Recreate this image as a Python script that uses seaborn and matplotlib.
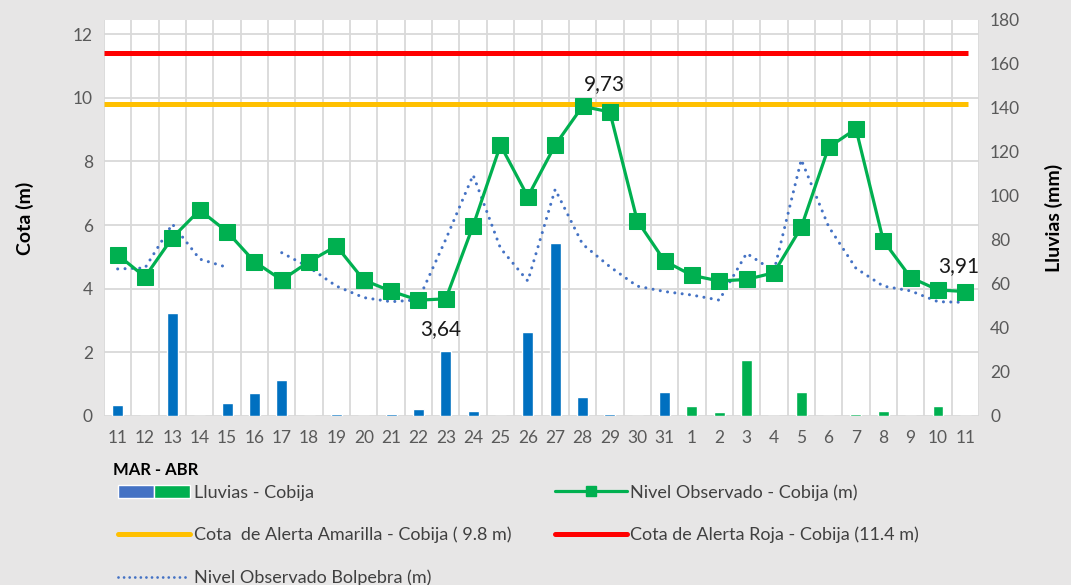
import numpy as np
import pandas as pd
import matplotlib
matplotlib.use("Agg")
import matplotlib.pyplot as plt
import seaborn as sns
from matplotlib.patches import Patch
from matplotlib.lines import Line2D
from matplotlib.legend_handler import HandlerTuple

# ---------------------------------------------------------------
# Datos
# ---------------------------------------------------------------
dias = [str(d) for d in range(11, 32)] + [str(d) for d in range(1, 12)]
mes = ["MAR"] * 21 + ["ABR"] * 11

nivel_cobija = [5.06, 4.37, 5.60, 6.47, 5.79, 4.85, 4.27, 4.85, 5.34, 4.27, 3.92,
                3.64, 3.68, 5.98, 8.51, 6.89, 8.51, 9.73, 9.55, 6.14, 4.87,
                4.42, 4.24, 4.29, 4.50, 5.93, 8.44, 9.02, 5.51, 4.35, 3.96, 3.91]

nivel_bolpebra = [4.62, 4.65, 6.03, 4.93, 4.67, np.nan, 5.13, 4.67, 4.08, 3.72, 3.59,
                  3.65, 5.55, 7.57, 5.27, 4.24, 7.12, 5.40, 4.69, 4.08, 3.91,
                  3.80, 3.64, 5.11, 4.55, 8.05, 5.95, 4.64, 4.08, 3.93, 3.59, 3.57]

lluvias = [5.0, 0, 46.8, 0, 5.9, 10.5, 16.4, 0, 0.9, 0, 0.9,
           3.2, 29.5, 2.3, 0, 38.2, 78.6, 8.6, 0.9, 0, 10.9,
           4.5, 1.8, 25.5, 0, 10.9, 0, 0.9, 2.3, 0, 4.5, 0]

COTA_AMARILLA = 9.8
COTA_ROJA = 11.4

# etiquetas de datos: indice -> posicion del texto (offset en puntos)
etiquetas = {17: (16, 16), 11: (16, -21), 31: (-5, 18)}

# ---------------------------------------------------------------
# Estilo
# ---------------------------------------------------------------
sns.set_theme(style="white")
plt.rcParams["font.family"] = ["Lato", "DejaVu Sans"]

GRIS_TXT = "#595959"
GRIS_GRID = "#D9D9D9"
VERDE = "#00B050"
AZUL_BAR = "#0070C0"
AZUL_PUNTOS = "#4472C4"
AMARILLO = "#FFC000"
ROJO = "#FF0000"

pos = np.arange(len(dias))
df = pd.DataFrame({"pos": pos, "lluvia": lluvias, "mes": mes,
                   "cobija": nivel_cobija, "bolpebra": nivel_bolpebra})

fig = plt.figure(figsize=(10.71, 5.85), dpi=100, facecolor="#E7E6E6")
ax = fig.add_axes([104 / 1071, 1 - 416 / 585, (979 - 104) / 1071, (416 - 20) / 585])
ax2 = ax.twinx()
ax.set_zorder(2)
ax2.set_zorder(1)
ax.patch.set_visible(False)
ax2.patch.set_visible(True)
ax2.patch.set_facecolor("white")

Y_TOP = 12.44
R_TOP = 180

# grilla (en el eje de abajo, detrás de las barras)
for t in np.arange(0, 13, 2):
    ax2.plot([-0.5, len(dias) - 0.5], [t, t], color=GRIS_GRID, lw=1.3,
             transform=ax.transData, zorder=0)
ax2.vlines(pos + 0.5, 0, R_TOP, color=GRIS_GRID, lw=1.3, zorder=0)
ax2.vlines([-0.5], 0, R_TOP, color=GRIS_GRID, lw=1.3, zorder=0)

# barras de lluvia
sns.barplot(data=df, x="pos", y="lluvia", hue="mes",
            palette={"MAR": AZUL_BAR, "ABR": VERDE}, native_scale=True,
            dodge=False, width=0.4, saturation=1, legend=False, ax=ax2, zorder=2)

# líneas de alerta
ax.hlines(COTA_ROJA, -0.5, len(dias) - 0.9, color=ROJO, lw=3.6, zorder=3)
ax.hlines(COTA_AMARILLA, -0.5, len(dias) - 0.9, color=AMARILLO, lw=3.6, zorder=3)

# Bolpebra (punteada, con hueco)
ax.plot(df["pos"], df["bolpebra"], color=AZUL_PUNTOS, lw=2.2,
        linestyle=(0, (0.01, 2.4)), dash_capstyle="round", zorder=4)

# Cobija
sns.lineplot(data=df, x="pos", y="cobija", ax=ax, color=VERDE, lw=2.3,
             marker="s", markersize=11, markeredgecolor=VERDE, zorder=5)

for i, (dx, dy) in etiquetas.items():
    ax.annotate(f"{nivel_cobija[i]:.2f}".replace(".", ","), (pos[i], nivel_cobija[i]),
                xytext=(dx, dy), textcoords="offset points", ha="center", va="center",
                fontsize=15, color="#1a1a1a", zorder=6)

# ejes
ax.set_xlim(-0.5, len(dias) - 0.5)
ax2.set_xlim(-0.5, len(dias) - 0.5)
ax.set_ylim(0, Y_TOP)
ax2.set_ylim(0, R_TOP)
ax.set_yticks(np.arange(0, 13, 2))
ax2.set_yticks(np.arange(0, 181, 20))
ax.set_xticks(pos)
ax.set_xticklabels(dias)
ax.tick_params(axis="both", length=0, colors=GRIS_TXT, labelsize=12.5)
ax.tick_params(axis="x", pad=10)
ax.tick_params(axis="y", pad=8)
ax2.tick_params(axis="y", length=0, colors=GRIS_TXT, labelsize=12.5, pad=8)
for a in (ax, ax2):
    for s in a.spines.values():
        s.set_visible(False)

ax.set_xlabel("")
ax2.set_xlabel("")
ax.set_ylabel("Cota (m)", fontsize=14, fontweight="bold", color="black", labelpad=28)
ax2.set_ylabel("Lluvias (mm)", fontsize=14, fontweight="bold", color="black", labelpad=18)

fig.text(113 / 1071, 1 - 470 / 585, "MAR - ABR", fontsize=12, fontweight="bold",
         color="black", va="center", ha="left")

# leyenda
h_lluvia = (Patch(facecolor=AZUL_PUNTOS), Patch(facecolor=VERDE))
h_cobija = Line2D([], [], color=VERDE, lw=2.3, marker="s", markersize=7)
h_amar = Line2D([], [], color=AMARILLO, lw=3.6)
h_roja = Line2D([], [], color=ROJO, lw=3.6)
h_bol = Line2D([], [], color=AZUL_PUNTOS, lw=2.0, linestyle=(0, (0.01, 2.0)),
               dash_capstyle="round")
handles = [h_lluvia, h_amar, h_bol, h_cobija, h_roja]
labels = ["Lluvias - Cobija", "Cota  de Alerta Amarilla - Cobija ( 9.8 m)",
          "Nivel Observado Bolpebra (m)", "Nivel Observado - Cobija (m)",
          "Cota de Alerta Roja - Cobija (11.4 m)"]
leg = fig.legend(handles, labels, ncol=2, loc="upper left",
                 bbox_to_anchor=(118 / 1071, 1 - 484 / 585), frameon=False,
                 fontsize=13, handlelength=4.0, handleheight=0.7,
                 handletextpad=0.2, columnspacing=2.4, labelspacing=1.45,
                 borderaxespad=0, borderpad=0,
                 handler_map={tuple: HandlerTuple(ndivide=None, pad=0)})
for t in leg.get_texts():
    t.set_color("#404040")

fig.savefig("out.png", dpi=100, facecolor=fig.get_facecolor())
